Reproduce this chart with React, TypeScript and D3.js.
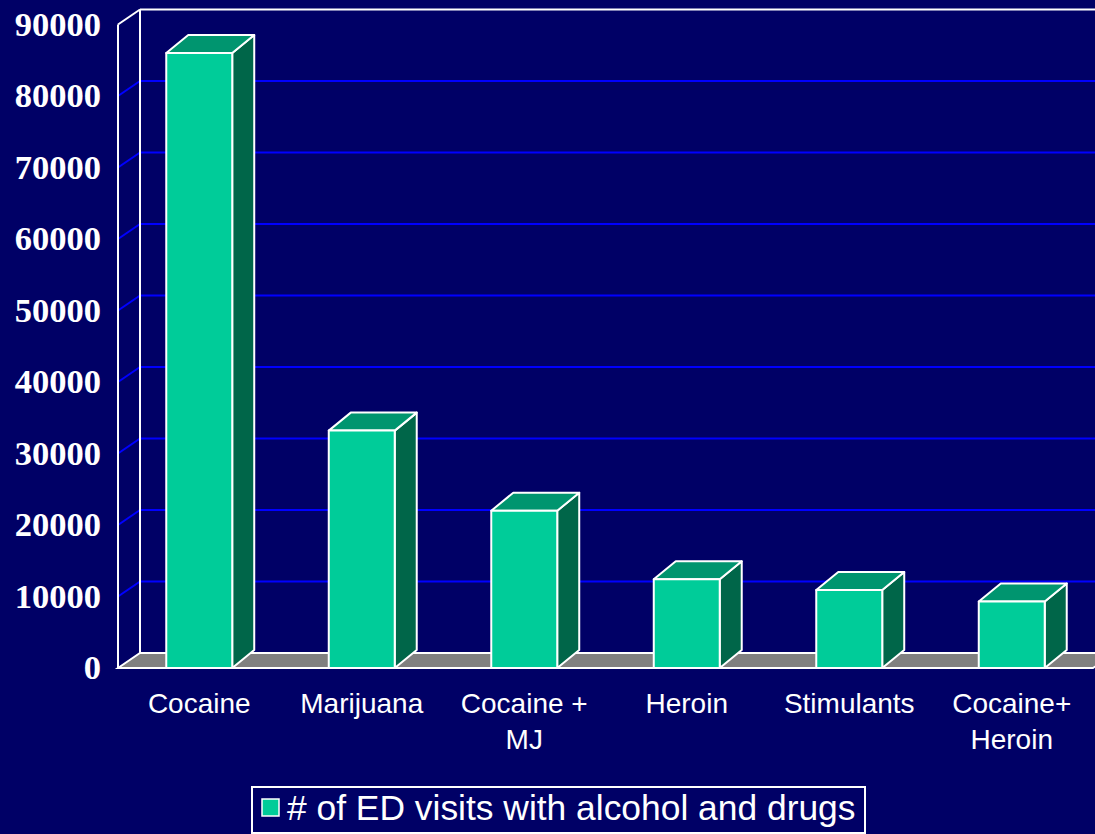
import * as d3 from "d3";

const categories = [["Cocaine"], ["Marijuana"], ["Cocaine +", "MJ"], ["Heroin"], ["Stimulants"], ["Cocaine+", "Heroin"]];
const visits = [86000, 33200, 22000, 12400, 10900, 9300];
const yTicks = [0, 10000, 20000, 30000, 40000, 50000, 60000, 70000, 80000, 90000];
const legendLabel = "# of ED visits with alcohol and drugs";

const bg = "#000066";
const barFront = "#00cc99";
const barTop = "#00956f";
const barSide = "#006649";

export default function App() {
  const width = 1095;
  const height = 834;
  const left = 118;
  const right = 1093;
  // depth offsets for the walls and for the columns
  const wall = { dx: 22, dy: -15 };
  const col = { dx: 22, dy: -18 };

  const x = d3
    .scaleBand()
    .domain(categories.map((c) => c.join(" ")))
    .range([left, right])
    .padding(0);
  const y = d3.scaleLinear().domain([0, 90000]).range([668, 24.5]);
  const barW = x.bandwidth() * 0.406;
  const y0 = y(0);
  const yTop = y(90000);

  const floor = [
    [left, y0],
    [left + wall.dx, y0 + wall.dy],
    [right + wall.dx, y0 + wall.dy],
    [right, y0],
  ];

  return (
    <svg
      width={width}
      height={height}
      viewBox={`0 0 ${width} ${height}`}
      style={{ position: "absolute", left: 0, top: 0, display: "block" }}
    >
      <rect width={width} height={height} fill={bg} />
      {/* gridlines on side and back walls */}
      {yTicks
        .filter((t) => t > 0 && t < 90000)
        .map((t) => (
          <g key={t}>
            <line x1={left} y1={y(t)} x2={left + wall.dx} y2={y(t) + wall.dy} stroke="#0000ff" strokeWidth={2} />
            <line x1={left + wall.dx} y1={y(t) + wall.dy} x2={width + 40} y2={y(t) + wall.dy} stroke="#0000ff" strokeWidth={2} />
          </g>
        ))}
      {/* wall outline */}
      <g stroke="#ffffff" strokeWidth={2} fill="none">
        <line x1={left} y1={y0} x2={left} y2={yTop} />
        <line x1={left} y1={yTop} x2={left + wall.dx} y2={yTop + wall.dy} />
        <line x1={left + wall.dx} y1={yTop + wall.dy} x2={width + 40} y2={yTop + wall.dy} />
        <line x1={left + wall.dx} y1={yTop + wall.dy} x2={left + wall.dx} y2={y0 + wall.dy} />
      </g>
      {/* floor */}
      <polygon points={floor.map((p) => p.join(",")).join(" ")} fill="#808080" stroke="#ffffff" strokeWidth={2} />

      {categories.map((c, i) => {
        const key = c.join(" ");
        const cx = (x(key) ?? 0) + x.bandwidth() / 2;
        const x0 = cx - barW / 2;
        const x1 = cx + barW / 2;
        const yt = y(visits[i]);
        const top = [
          [x0, yt],
          [x0 + col.dx, yt + col.dy],
          [x1 + col.dx, yt + col.dy],
          [x1, yt],
        ];
        const side = [
          [x1, yt],
          [x1 + col.dx, yt + col.dy],
          [x1 + col.dx, y0 + col.dy],
          [x1, y0],
        ];
        return (
          <g key={key} stroke="#ffffff" strokeWidth={2} strokeLinejoin="round">
            <polygon points={side.map((p) => p.join(",")).join(" ")} fill={barSide} />
            <polygon points={top.map((p) => p.join(",")).join(" ")} fill={barTop} />
            <rect x={x0} y={yt} width={barW} height={y0 - yt} fill={barFront} />
          </g>
        );
      })}

      {/* y axis labels */}
      {yTicks.map((t) => (
        <text
          key={t}
          x={101}
          y={y(t) + 11}
          textAnchor="end"
          fill="#ffffff"
          fontFamily="'Liberation Serif', 'Times New Roman', serif"
          fontWeight="bold"
          fontSize={34.5}
        >
          {t}
        </text>
      ))}

      {/* category labels */}
      {categories.map((c) => {
        const key = c.join(" ");
        const cx = (x(key) ?? 0) + x.bandwidth() / 2;
        return (
          <text
            key={key}
            x={cx}
            y={713}
            textAnchor="middle"
            fill="#ffffff"
            fontFamily="'Liberation Sans', Arial, sans-serif"
            fontSize={28}
          >
            {c.map((line, j) => (
              <tspan key={j} x={cx} dy={j === 0 ? 0 : 36}>
                {line}
              </tspan>
            ))}
          </text>
        );
      })}

      {/* legend */}
      <g>
        <rect x={252} y={787} width={613} height={46} fill={bg} stroke="#ffffff" strokeWidth={2} />
        <rect x={262} y={799} width={17} height={17} fill={barFront} stroke="#ffffff" strokeWidth={1.5} />
        <text
          x={287}
          y={820}
          fill="#ffffff"
          fontFamily="'Liberation Sans', Arial, sans-serif"
          fontSize={35.4}
        >
          {legendLabel}
        </text>
      </g>
    </svg>
  );
}
